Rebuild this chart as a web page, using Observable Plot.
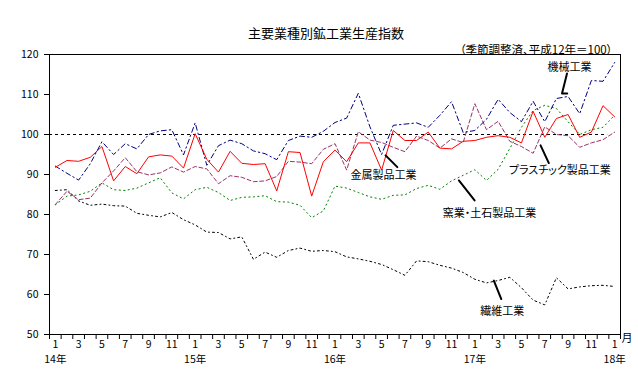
<!DOCTYPE html>
<html><head><meta charset="utf-8">
<script src="https://cdn.jsdelivr.net/npm/d3@7"></script>
<script src="https://cdn.jsdelivr.net/npm/@observablehq/plot@0.6"></script>
<style>
html,body{margin:0;padding:0;background:#fff;}
svg text{font-feature-settings:"palt";}
</style></head><body><div id="chart"></div>
<script>
const years = ["14年","15年","16年","17年","18年"];
const monthNames = ["1","2","3","4","5","6","7","8","9","10","11","12"];
const periods = [];
for (let y = 0; y < 4; y++) for (let m = 0; m < 12; m++) periods.push({year: years[y], month: monthNames[m]});
periods.push({year: years[4], month: monthNames[0]});

const machinery = [92.1, 90.3, 88.6, 92.7, 98.2, 95.0, 97.7, 96.4, 100.0, 100.9, 101.2, 94.9, 102.9, 92.3, 97.2, 98.6, 97.7, 95.9, 95.2, 93.7, 98.5, 99.6, 99.3, 100.8, 103.0, 104.1, 110.3, 101.9, 95.0, 102.3, 102.6, 102.9, 101.8, 104.8, 108.2, 100.5, 101.0, 103.8, 108.8, 105.5, 103.2, 108.3, 103.2, 109.0, 109.5, 105.2, 113.5, 113.3, 118.0];
const metal = [91.8, 93.5, 93.3, 94.3, 97.0, 88.4, 92.0, 90.2, 94.4, 94.9, 94.6, 91.6, 100.2, 93.8, 90.6, 95.8, 92.8, 92.5, 92.7, 85.9, 95.7, 95.5, 84.6, 93.2, 96.1, 93.2, 97.9, 97.9, 91.1, 101.0, 98.5, 98.5, 100.6, 96.6, 96.4, 98.3, 98.5, 99.3, 99.7, 99.3, 97.9, 105.8, 99.3, 104.0, 105.0, 99.3, 100.6, 107.2, 104.4];
const plastic = [82.5, 85.8, 83.7, 84.1, 87.9, 90.9, 94.2, 90.7, 89.9, 90.4, 91.9, 90.6, 92.0, 91.4, 87.7, 89.7, 89.3, 88.2, 88.4, 89.5, 93.3, 93.1, 92.7, 96.3, 97.7, 91.1, 100.7, 98.6, 98.0, 96.8, 95.7, 99.6, 98.5, 96.6, 98.9, 98.0, 107.7, 101.2, 103.3, 98.3, 97.0, 95.3, 101.9, 100.0, 99.7, 96.8, 97.9, 98.7, 100.6];
const ceramics = [82.4, 84.6, 84.9, 85.8, 87.9, 86.2, 86.0, 86.6, 87.9, 89.2, 85.4, 83.9, 86.2, 86.8, 85.5, 83.5, 84.3, 84.4, 84.7, 83.2, 83.1, 82.3, 79.2, 80.9, 87.1, 86.6, 85.5, 84.4, 83.8, 84.8, 84.9, 86.5, 87.3, 86.3, 88.4, 89.8, 91.2, 88.5, 91.3, 96.5, 101.8, 106.0, 107.3, 106.5, 103.2, 100.0, 101.2, 101.8, 104.8];
const textile = [86.0, 86.2, 83.4, 82.3, 82.6, 82.2, 82.1, 80.3, 79.8, 79.4, 80.5, 78.7, 77.4, 75.6, 75.5, 73.9, 74.4, 68.8, 70.6, 69.3, 71.0, 71.6, 70.8, 71.0, 70.7, 69.4, 68.9, 68.3, 67.5, 66.2, 64.8, 68.4, 68.2, 67.3, 66.6, 65.5, 63.8, 62.9, 63.5, 64.3, 61.7, 58.6, 57.4, 64.2, 61.4, 61.9, 62.2, 62.3, 62.0];
const yTicks = [50, 60, 70, 80, 90, 100, 110, 120];
const baseValue = 100;

const series = [
  {name: "繊維工業", values: textile, stroke: "#000000", dash: "2,3,1,3"},
  {name: "窯業・土石製品工業", values: ceramics, stroke: "#008000", dash: "1.2,3.3"},
  {name: "プラスチック製品工業", values: plastic, stroke: "#993366", dash: "4,2.5"},
  {name: "機械工業", values: machinery, stroke: "#000080", dash: "5,3,1.5,3"},
  {name: "金属製品工業", values: metal, stroke: "#ff0000", dash: null}
];

// annotation placement (data units)
const labels = [
  {text: "機械工業", x: 44.13, y: 116.8, anchor: "middle"},
  {text: "金属製品工業", x: 28.17, y: 89.85, anchor: "start"},
  {text: "プラスチック製品工業", x: 43.3, y: 90.9, anchor: "middle"},
  {text: "窯業・土石製品工業", x: 37.26, y: 80.25, anchor: "middle"},
  {text: "繊維工業", x: 38.35, y: 55.8, anchor: "middle"}
];
const leaders = [
  {id: "m", pts: [[43.91, 115.26], [43.48, 110.25], [43.93, 110.25]]},
  {id: "k", pts: [[28.34, 94.79], [29.35, 91.85]]},
  {id: "p", pts: [[41.64, 97.29], [42.35, 92.86]]},
  {id: "c", pts: [[34.63, 88.52], [35.98, 83.51]]},
  {id: "t", pts: [[37.63, 63.46], [38.27, 58.87]]}
];
const leaderRows = leaders.flatMap(l => l.pts.map(([x, y]) => ({id: l.id, x, y})));

const idx = periods.map((d, i) => i);
const boundaries = d3.range(0, periods.length + 1).map(k => k - 0.5);
const oddIdx = idx.filter(i => (+periods[i].month) % 2 === 1);
const janIdx = idx.filter(i => periods[i].month === "1");

const marks = [];
for (const s of series) {
  marks.push(Plot.line(s.values.map((v, i) => ({i, v})), {
    x: "i", y: "v", stroke: s.stroke, strokeWidth: 1,
    strokeDasharray: s.dash || undefined, curve: "linear"
  }));
}

const plot = Plot.plot({
  width: 638, height: 379,
  marginLeft: 49, marginRight: 18, marginTop: 54, marginBottom: 45,
  style: {fontFamily: "'Noto Sans CJK JP', 'Noto Sans', sans-serif", fontSize: "10.5px", background: "#fff", color: "#000"},
  x: {domain: [-0.5, periods.length - 0.5], label: null},
  y: {domain: [50, 120], label: null},
  marks: [
    Plot.ruleY([baseValue], {x1: -0.5, x2: 47.4, stroke: "#000", strokeDasharray: "3,3"}),
    ...marks,
    Plot.frame({stroke: "#000"}),
    Plot.axisY(yTicks, {tickSize: 5, tickPadding: 6, label: null, fontSize: 10.5}),
    Plot.axisX(boundaries, {tickSize: 5, tickFormat: () => "", label: null}),
    Plot.axisX(oddIdx, {tickSize: 0, tickPadding: 6, tickFormat: i => periods[i].month, label: null, fontSize: 10.5}),
    Plot.axisX(janIdx, {tickSize: 0, tickPadding: 21, tickFormat: i => periods[i].year, label: null, fontSize: 10.5}),
    Plot.line(leaderRows, {x: "x", y: "y", z: "id", stroke: "#000", strokeWidth: 2}),
    Plot.text(labels, {x: "x", y: "y", text: "text", textAnchor: d => d.anchor, fontSize: 11, fill: "#000"}),
    Plot.text(["主要業種別鉱工業生産指数"], {frameAnchor: "top", dx: -9, dy: -26, fontSize: 13, fill: "#000"}),
    Plot.text(["（季節調整済、平成12年＝100）"], {frameAnchor: "top-right", textAnchor: "end", dx: -8, dy: -9, fontSize: 11.5, fill: "#000"}),
    Plot.text(["月"], {frameAnchor: "bottom-right", textAnchor: "start", dx: 1, dy: 7, fontSize: 11, fill: "#000"})
  ]
});
document.getElementById("chart").appendChild(plot);
</script></body></html>
